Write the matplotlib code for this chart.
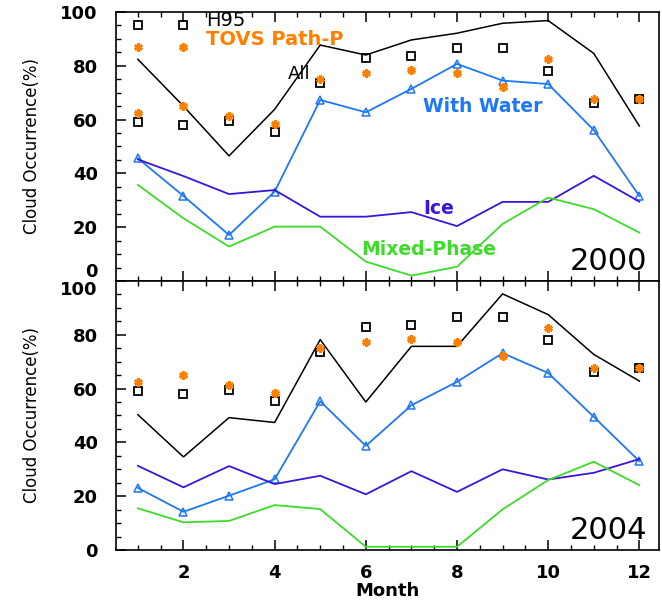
import numpy as np
import matplotlib
matplotlib.use('Agg')
import matplotlib.pyplot as plt
from matplotlib.ticker import MultipleLocator

# data
months = np.arange(1, 13)

all_2000 = [82.4, 65.0, 46.5, 63.8, 87.7, 84.0, 89.6, 92.1, 95.8, 96.8, 84.6, 57.6]
water_2000 = [45.6, 31.6, 17.1, 33.2, 67.3, 62.7, 71.4, 80.7, 74.5, 73.2, 56.1, 31.6]
ice_2000 = [45.2, 39.0, 32.3, 33.8, 23.9, 23.9, 25.6, 20.4, 29.4, 29.4, 39.1, 29.5]
mixed_2000 = [35.7, 23.3, 12.8, 20.2, 20.2, 7.2, 2.0, 5.3, 21.2, 31.0, 26.7, 18.0]

all_2004 = [50.3, 34.6, 49.2, 47.4, 78.2, 55.0, 75.7, 75.7, 95.2, 87.5, 72.7, 62.8]
water_2004 = [23.1, 14.2, 20.2, 26.3, 55.3, 38.7, 53.8, 62.5, 73.2, 65.8, 49.5, 33.0]
ice_2004 = [31.3, 23.3, 31.2, 24.5, 27.6, 20.7, 29.3, 21.6, 30.0, 26.2, 28.7, 33.8]
mixed_2004 = [15.5, 10.3, 10.8, 16.7, 15.2, 1.2, 1.2, 1.2, 15.1, 26.0, 32.8, 24.1]

h95 = [59.2, 58.0, 59.5, 55.5, 73.7, 83.0, 83.8, 86.5, 86.5, 78.2, 66.0, 67.5]
tovs = [62.3, 65.0, 61.5, 58.2, 75.0, 77.4, 78.3, 77.4, 72.0, 82.5, 67.5, 67.5]

# legend symbols (two per entry, IDL style)
legend_months = [1, 2]
legend_h95 = 95.2
legend_tovs = 87.1

yticks = [0, 20, 40, 60, 80, 100]
xticks = [2, 4, 6, 8, 10, 12]

c_black = 'black'
c_orange = '#ff8000'
c_water = '#1e78f5'
c_ice = '#3c14dc'
c_mixed = '#3cdc28'

fig = plt.figure(figsize=(6.62, 6.04), dpi=100)
ax1 = fig.add_axes([0.1752, 0.5348, 0.8202, 0.4454])
ax2 = fig.add_axes([0.1752, 0.0894, 0.8202, 0.4454])


def draw_panel(ax, a, w, i, m, year):
    ax.plot(months, a, color=c_black, lw=1.1)
    ax.plot(months, w, color=c_water, lw=1.3, marker='^', ms=6,
            mfc='none', mec=c_water, mew=1.1)
    ax.plot(months, i, color=c_ice, lw=1.3)
    ax.plot(months, m, color=c_mixed, lw=1.3)
    ax.plot(months, h95, ls='none', marker='s', ms=5.5, mfc='none',
            mec=c_black, mew=1.3)
    ax.plot(months, tovs, ls='none', marker=(6, 2, 0), ms=6,
            mec=c_orange, mew=2.0)
    ax.set_xlim(0.52, 12.43)
    ax.set_ylim(0, 100)
    ax.set_xticks(xticks)
    ax.set_yticks(yticks)
    ax.xaxis.set_minor_locator(MultipleLocator(0.5))
    ax.yaxis.set_minor_locator(MultipleLocator(5))
    ax.tick_params(axis='x', which='both', direction='in', top=True, bottom=True)
    ax.tick_params(axis='y', which='both', direction='in', left=True, right=False)
    ax.tick_params(which='major', length=7, width=1.1, labelsize=13)
    ax.tick_params(axis='y', which='major', pad=13)
    ax.tick_params(axis='x', which='major', pad=10)
    ax.tick_params(which='minor', length=3.5, width=1.0)
    for lab in ax.get_xticklabels() + ax.get_yticklabels():
        lab.set_fontweight('bold')
    for s in ax.spines.values():
        s.set_linewidth(1.2)
    ax.set_ylabel('Cloud Occurrence(%)', fontsize=12, labelpad=14)
    ax.text(0.978, 0.02, year, transform=ax.transAxes, ha='right',
            va='bottom', fontsize=22)


draw_panel(ax1, all_2000, water_2000, ice_2000, mixed_2000, '2000')
draw_panel(ax2, all_2004, water_2004, ice_2004, mixed_2004, '2004')

ax1.tick_params(axis='x', labelbottom=False)
# keep the shared 0 / 100 labels from sitting on top of each other
ax1.get_yticklabels()[0].set_va('bottom')
ax2.get_yticklabels()[-1].set_va('top')

# legend in top panel
ax1.plot(legend_months, [legend_h95] * 2, ls='none', marker='s', ms=5.5,
         mfc='none', mec=c_black, mew=1.3)
ax1.plot(legend_months, [legend_tovs] * 2, ls='none', marker=(6, 2, 0), ms=6,
         mec=c_orange, mew=2.0)
ax1.text(2.5, 97, 'H95', color=c_black, fontsize=14, va='center')
ax1.text(2.5, 89.6, 'TOVS Path-P', color=c_orange, fontsize=14,
         fontweight='bold', va='center')

# curve labels
ax1.text(4.28, 77, 'All', color=c_black, fontsize=13, va='center')
ax1.text(7.25, 64.7, 'With Water', color=c_water, fontsize=13.5,
         fontweight='bold', va='center')
ax1.text(7.25, 26.8, 'Ice', color=c_ice, fontsize=13.5,
         fontweight='bold', va='center')
ax1.text(5.9, 11.7, 'Mixed-Phase', color=c_mixed, fontsize=13.5,
         fontweight='bold', va='center')

ax2.set_xlabel('Month', fontsize=13, fontweight='bold', labelpad=0)

fig.savefig('out.png', dpi=100)
